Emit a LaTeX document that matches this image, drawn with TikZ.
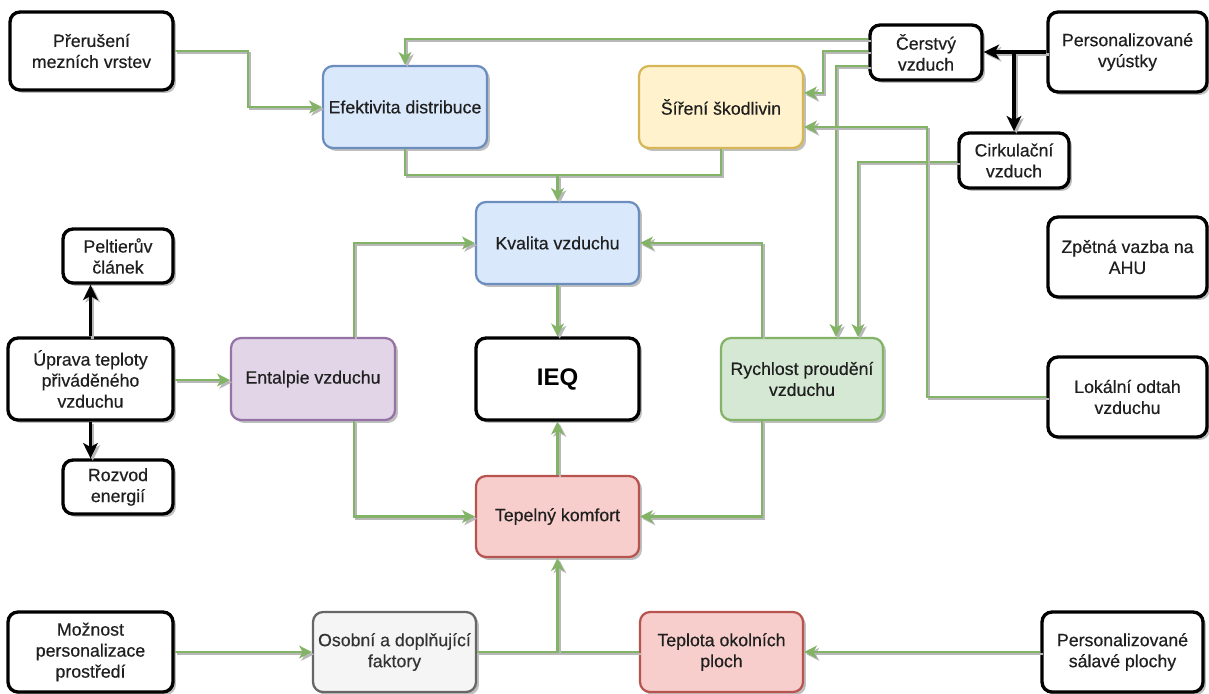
\documentclass[tikz,border=0pt]{standalone}
\usepackage{fontspec}
\setmainfont{Liberation Sans}
\newfontfamily\boxfont{Liberation Sans}[FakeBold=0.45]
\usetikzlibrary{arrows.meta,shadows}

\definecolor{gstroke}{HTML}{82B366}
\definecolor{gfill}{HTML}{D5E8D4}
\definecolor{bstroke}{HTML}{6C8EBF}
\definecolor{bfill}{HTML}{DAE8FC}
\definecolor{ystroke}{HTML}{D6B656}
\definecolor{yfill}{HTML}{FFF2CC}
\definecolor{pstroke}{HTML}{9673A6}
\definecolor{pfill}{HTML}{E1D5E7}
\definecolor{rstroke}{HTML}{B85450}
\definecolor{rfill}{HTML}{F8CECC}
\definecolor{sstroke}{HTML}{666666}
\definecolor{sfill}{HTML}{F5F5F5}
\definecolor{stext}{HTML}{333333}

% connector drawn twice: a soft grey shadow, then the line itself
\newcommand\link[2][]{%
  \draw[#1,lineshadow] #2;
  \draw[#1] #2;}

\tikzset{
  box/.style={rectangle, rounded corners=7.5pt, align=center, inner sep=2pt,
    font=\boxfont\fontsize{13.3}{15.75}\selectfont, text=black!88,
    drop shadow={shadow xshift=2.2pt, shadow yshift=-2.2pt, opacity=0.25, fill=black}},
  sz/.style 2 args={minimum width=#1*0.75pt, minimum height=#2*0.75pt},
  nplain/.style={box, draw=black, fill=white, line width=2.5pt},
  nblue/.style={box, draw=bstroke, fill=bfill, line width=1.7pt},
  nyellow/.style={box, draw=ystroke, fill=yfill, line width=1.7pt},
  npurple/.style={box, draw=pstroke, fill=pfill, line width=1.7pt},
  ngreen/.style={box, draw=gstroke, fill=gfill, line width=1.7pt},
  nred/.style={box, draw=rstroke, fill=rfill, line width=1.7pt},
  ngrey/.style={box, draw=sstroke, fill=sfill, line width=1.7pt, text=stext},
  gl/.style={draw=gstroke, line width=1.8pt},
  ga/.style={gl, -{Stealth[length=9.5pt,width=9.5pt,inset=2.5pt]}},
  ba/.style={draw=black, line width=2.5pt, -{Stealth[length=11.5pt,width=11pt,inset=3pt]}},
  lineshadow/.style={draw=black!28, transform canvas={shift={(1.7pt,-1.7pt)}}},
}

\begin{document}
\begin{tikzpicture}[x=0.75pt, y=-0.75pt]
\useasboundingbox (0,0) rectangle (1209,693);

% ---- nodes ----
\node[nplain, sz={163}{78}] (prer) at (91.5,51) {Přerušení\\mezních vrstev};
\node[nplain, sz={110}{54}] (pel) at (118,256) {Peltierův\\článek};
\node[nplain, sz={165}{82}] (upr) at (90.5,379) {Úprava teploty\\přiváděného\\vzduchu};
\node[nplain, sz={110}{54}] (roz) at (118,487) {Rozvod\\energií};
\node[nplain, sz={165}{80}] (moz) at (90.5,652) {Možnost\\personalizace\\prostředí};

\node[nblue, sz={164}{82}] (eff) at (405,107) {Efektivita distribuce};
\node[nyellow, sz={164}{82}] (sir) at (721,107) {Šíření škodlivin};
\node[nblue, sz={163}{82}] (kval) at (557.5,243) {Kvalita vzduchu};
\node[npurple, sz={164}{82}] (ent) at (313,379) {Entalpie vzduchu};
\node[nplain, sz={163}{82}, font=\fontsize{18}{20}\selectfont\bfseries, text=black] (ieq) at (557.5,379) {IEQ};
\node[ngreen, sz={162}{82}] (rych) at (802,379) {Rychlost proudění\\vzduchu};
\node[nred, sz={163}{81}] (tep) at (557.5,516.5) {Tepelný komfort};
\node[ngrey, sz={163}{80}] (oso) at (394.5,652) {Osobní a doplňující\\faktory};
\node[nred, sz={163}{80}] (tepl) at (721.5,652) {Teplota okolních\\ploch};

\node[nplain, sz={112}{55}] (cer) at (926,52.5) {Čerstvý\\vzduch};
\node[nplain, sz={159}{80}] (vyu) at (1127.5,52) {Personalizované\\vyústky};
\node[nplain, sz={110}{55}] (cir) at (1014,160.5) {Cirkulační\\vzduch};
\node[nplain, sz={159}{80}] (zpe) at (1127.5,257) {Zpětná vazba na\\AHU};
\node[nplain, sz={159}{80}] (lok) at (1127.5,397) {Lokální odtah\\vzduchu};
\node[nplain, sz={161}{80}] (sal) at (1122.5,652) {Personalizované\\sálavé plochy};

% ---- green connectors ----
\link[ga]{(prer.east) -- (248,0 |- prer.east) |- (eff.west)}
\link[ga]{(cer.west |- 0,39) -| (eff.north)}
\link[ga]{(cer.west |- 0,51) -| (823,93) -- (sir.east |- 0,93)}
\link[ga]{(cer.west |- 0,66) -| (836,0 |- rych.north)}
\link[ga]{(cir.west |- 0,162) -| (858,0 |- rych.north)}
\link[ga]{(lok.west) -| (927,127) -- (sir.east |- 0,127)}

\link[gl]{(sir.south) |- (kval.north |- 0,175)}
\link[ga]{(eff.south) |- (kval.north |- 0,175) -- (kval.north)}

\link[ga]{(354,0 |- ent.north) |- (kval.west)}
\link[ga]{(762,0 |- rych.north) |- (kval.east)}
\link[ga]{(kval.south) -- (ieq.north)}
\link[ga]{(tep.north) -- (ieq.south)}
\link[ga]{(354,0 |- ent.south) |- (tep.west)}
\link[ga]{(762,0 |- rych.south) |- (tep.east)}

\link[ga]{(upr.east |- 0,380) -- (ent.west |- 0,380)}
\link[ga]{(moz.east) -- (oso.west)}
\link[gl]{(tepl.west) -- (tep.south |- tepl.west)}
\link[ga]{(oso.east) -| (tep.south)}
\link[ga]{(sal.west) -- (tepl.east)}

% ---- black connectors ----
\link[ba]{(vyu.west) -- (cer.east |- vyu.west)}
\link[ba]{(cir.north |- vyu.west) -- (cir.north)}
\link[ba]{(upr.north) -- (upr.north |- pel.south)}
\link[ba]{(upr.south) -- (upr.south |- roz.north)}
\end{tikzpicture}
\end{document}
